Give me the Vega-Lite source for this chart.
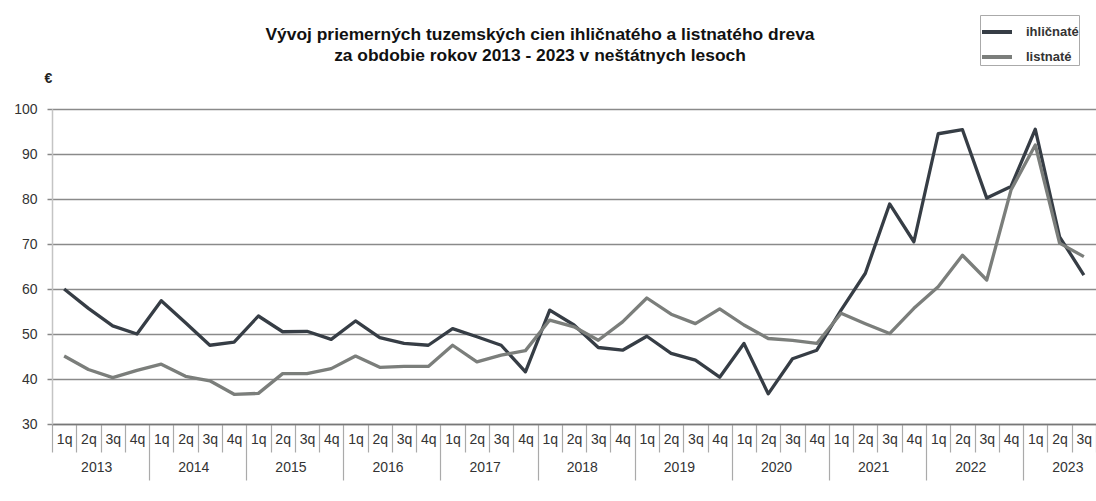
{
  "$schema": "https://vega.github.io/schema/vega-lite/v6.json",
  "width": 1044,
  "height": 315,
  "autosize": {"type": "none"},
  "padding": {"left": 52, "top": 109, "right": 0, "bottom": 77},
  "background": "white",
  "config": {"font": "Liberation Sans", "view": {"stroke": null}},
  "title": {
    "text": ["Vývoj priemerných tuzemských cien ihličnatého a listnatého dreva", "za obdobie rokov 2013 - 2023 v neštátnych lesoch"],
    "frame": "group", "anchor": "middle", "dx": -34, "offset": -50,
    "fontSize": 17.4, "fontWeight": "bold", "lineHeight": 21, "color": "#111"
  },
  "data": {"values": [
    {"p": "2013 1q", "ihličnaté": 60.0, "listnaté": 45.1},
    {"p": "2013 2q", "ihličnaté": 55.7, "listnaté": 42.1},
    {"p": "2013 3q", "ihličnaté": 51.8, "listnaté": 40.3},
    {"p": "2013 4q", "ihličnaté": 50.0, "listnaté": 41.9},
    {"p": "2014 1q", "ihličnaté": 57.4, "listnaté": 43.3},
    {"p": "2014 2q", "ihličnaté": 52.5, "listnaté": 40.6},
    {"p": "2014 3q", "ihličnaté": 47.5, "listnaté": 39.6},
    {"p": "2014 4q", "ihličnaté": 48.2, "listnaté": 36.6},
    {"p": "2015 1q", "ihličnaté": 54.0, "listnaté": 36.8},
    {"p": "2015 2q", "ihličnaté": 50.5, "listnaté": 41.2},
    {"p": "2015 3q", "ihličnaté": 50.6, "listnaté": 41.2},
    {"p": "2015 4q", "ihličnaté": 48.8, "listnaté": 42.3},
    {"p": "2016 1q", "ihličnaté": 52.9, "listnaté": 45.1},
    {"p": "2016 2q", "ihličnaté": 49.2, "listnaté": 42.6},
    {"p": "2016 3q", "ihličnaté": 47.9, "listnaté": 42.8},
    {"p": "2016 4q", "ihličnaté": 47.5, "listnaté": 42.8},
    {"p": "2017 1q", "ihličnaté": 51.2, "listnaté": 47.5},
    {"p": "2017 2q", "ihličnaté": 49.4, "listnaté": 43.8},
    {"p": "2017 3q", "ihličnaté": 47.5, "listnaté": 45.3},
    {"p": "2017 4q", "ihličnaté": 41.6, "listnaté": 46.3},
    {"p": "2018 1q", "ihličnaté": 55.3, "listnaté": 53.1},
    {"p": "2018 2q", "ihličnaté": 52.0, "listnaté": 51.6},
    {"p": "2018 3q", "ihličnaté": 47.0, "listnaté": 48.6},
    {"p": "2018 4q", "ihličnaté": 46.4, "listnaté": 52.7},
    {"p": "2019 1q", "ihličnaté": 49.5, "listnaté": 58.0},
    {"p": "2019 2q", "ihličnaté": 45.7, "listnaté": 54.4},
    {"p": "2019 3q", "ihličnaté": 44.2, "listnaté": 52.3},
    {"p": "2019 4q", "ihličnaté": 40.4, "listnaté": 55.6},
    {"p": "2020 1q", "ihličnaté": 47.9, "listnaté": 52.0},
    {"p": "2020 2q", "ihličnaté": 36.7, "listnaté": 49.0},
    {"p": "2020 3q", "ihličnaté": 44.5, "listnaté": 48.6},
    {"p": "2020 4q", "ihličnaté": 46.4, "listnaté": 47.9},
    {"p": "2021 1q", "ihličnaté": 55.3, "listnaté": 54.6},
    {"p": "2021 2q", "ihličnaté": 63.5, "listnaté": 52.3},
    {"p": "2021 3q", "ihličnaté": 78.9, "listnaté": 50.1},
    {"p": "2021 4q", "ihličnaté": 70.5, "listnaté": 55.7},
    {"p": "2022 1q", "ihličnaté": 94.5, "listnaté": 60.5},
    {"p": "2022 2q", "ihličnaté": 95.4, "listnaté": 67.5},
    {"p": "2022 3q", "ihličnaté": 80.2, "listnaté": 62.0},
    {"p": "2022 4q", "ihličnaté": 82.8, "listnaté": 82.0},
    {"p": "2023 1q", "ihličnaté": 95.5, "listnaté": 92.0},
    {"p": "2023 2q", "ihličnaté": 71.6, "listnaté": 70.2},
    {"p": "2023 3q", "ihličnaté": 63.1, "listnaté": 67.2}
  ]},
  "transform": [{"fold": ["ihličnaté", "listnaté"], "as": ["druh", "cena"]}],
  "mark": {"type": "line", "strokeWidth": 3.3, "strokeJoin": "round"},
  "encoding": {
    "x": {
      "field": "p", "type": "nominal", "sort": null,
      "scale": {"type": "band", "paddingInner": 0, "paddingOuter": 0},
      "axis": {
        "title": null, "orient": "bottom",
        "labelExpr": "[split(datum.value, ' ')[1], split(datum.value, ' ')[1] == '2q' ? split(datum.value, ' ')[0] : '']",
        "labelAngle": 0, "labelOverlap": false, "labelLineHeight": 28,
        "labelAlign": "left", "labelOffset": -7.8,
        "labelFontSize": 14, "labelColor": "#333",
        "labelPadding": {"condition": {"test": "test(/4q/, '' + datum.value)", "value": -48}, "value": -20},
        "tickBand": "extent", "tickColor": "#aaa", "tickWidth": 1.2,
        "tickSize": {"condition": {"test": "test(/4q/, '' + datum.value)", "value": 56}, "value": 28},
        "domainColor": "#777", "domainWidth": 1.5, "grid": false
      }
    },
    "y": {
      "field": "cena", "type": "quantitative",
      "scale": {"domain": [30, 100], "nice": false, "zero": false},
      "axis": {
        "title": "€", "titleAngle": 0, "titleX": -4, "titleY": -31,
        "titleAlign": "center", "titleBaseline": "middle",
        "titleFontSize": 14, "titleFontWeight": "bold", "titleColor": "#222",
        "values": [30, 40, 50, 60, 70, 80, 90, 100],
        "labelFontSize": 14, "labelColor": "#333", "labelPadding": 10,
        "tickSize": 5, "tickColor": "#888", "tickWidth": 1.5,
        "domainColor": "#c4c4c4", "domainWidth": 1.5,
        "grid": true, "gridColor": "#8a8a8a", "gridWidth": 1.5
      }
    },
    "color": {
      "field": "druh", "type": "nominal",
      "scale": {"domain": ["ihličnaté", "listnaté"], "range": ["#363d45", "#7b7e7b"]},
      "legend": {
        "title": null, "orient": "none", "legendX": 928, "legendY": -94,
        "direction": "vertical",
        "strokeColor": "#aaa", "fillColor": "white", "padding": 0,
        "symbolType": "stroke", "symbolSize": 900, "symbolStrokeWidth": 4,
        "rowPadding": 0, "labelOffset": 12, "labelLimit": 200,
        "labelFontSize": 13, "labelFontWeight": "bold", "labelColor": "#333"
      }
    }
  }
}
